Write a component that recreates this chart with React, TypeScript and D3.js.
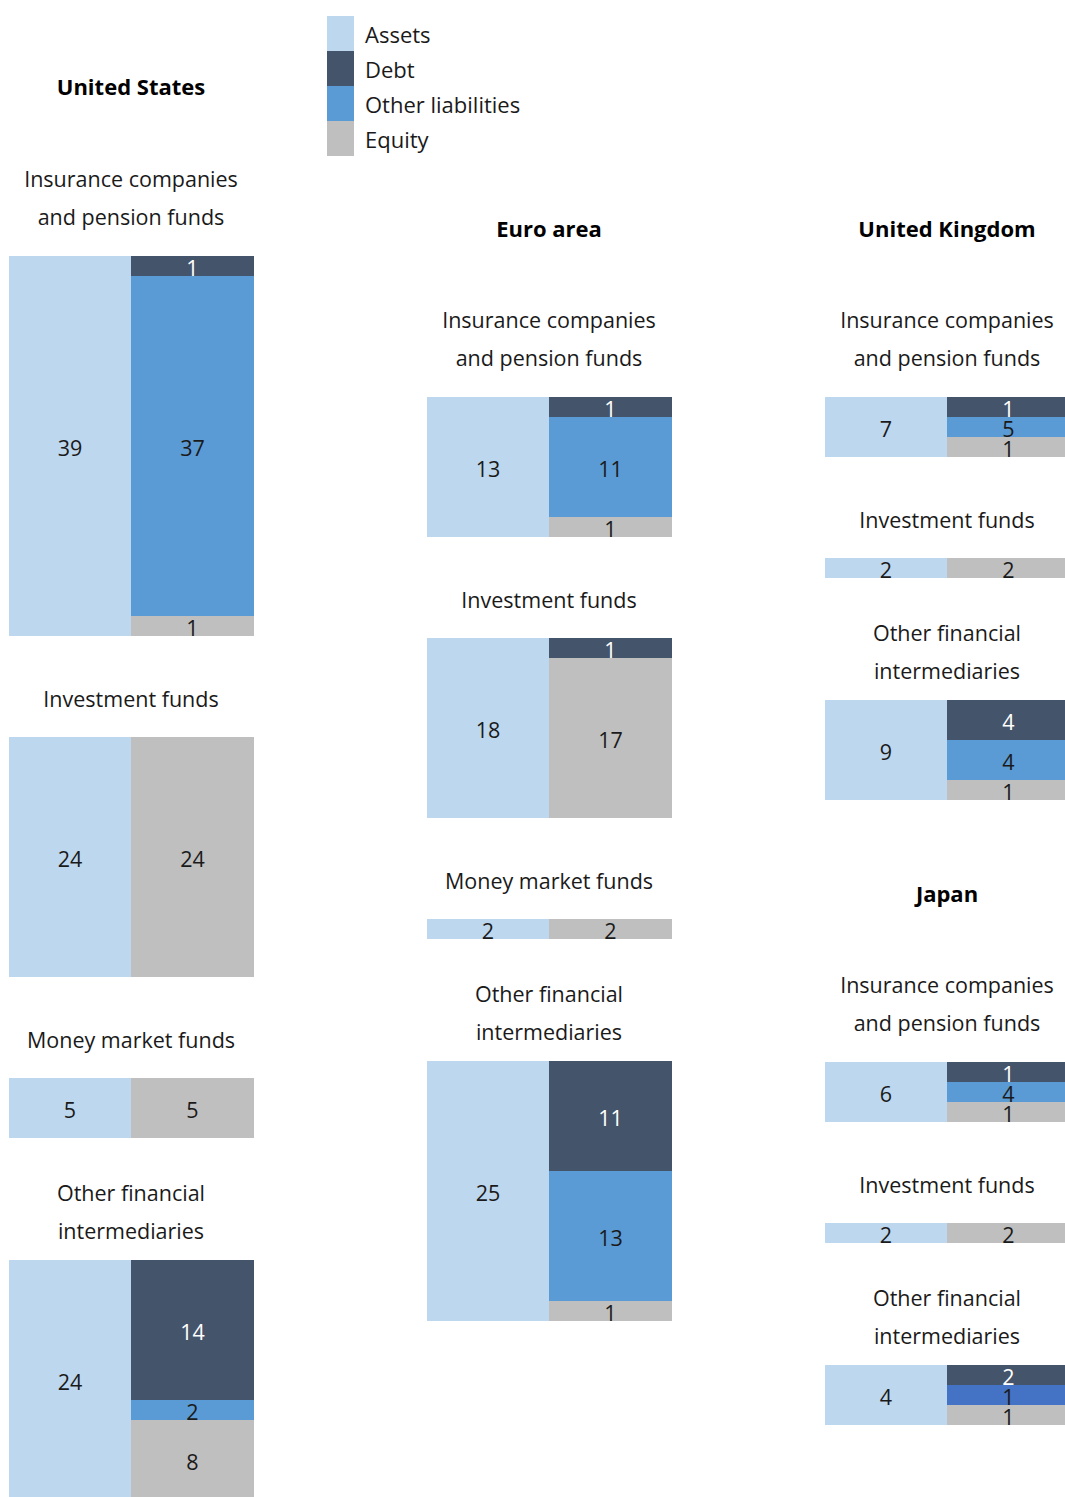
import React from "react";
import * as d3 from "d3";

// ---------- data ----------
const REGIONS = ["United States", "Euro area", "United Kingdom", "Japan"];

const US_SECTORS = ["Insurance companies|and pension funds", "Investment funds", "Money market funds", "Other financial|intermediaries"];
const US_ASSETS = [38.7, 24, 5, 24];
const US_DEBT = [1, null, null, 14];
const US_OTHER = [37, null, null, 2];
const US_EQUITY = [1, 24, 5, 8];

const EA_SECTORS = ["Insurance companies|and pension funds", "Investment funds", "Money market funds", "Other financial|intermediaries"];
const EA_ASSETS = [13, 18, 2, 25];
const EA_DEBT = [1, 1, null, 11];
const EA_OTHER = [11, null, null, 13];
const EA_EQUITY = [1, 17, 2, 1];

const UK_SECTORS = ["Insurance companies|and pension funds", "Investment funds", "Other financial|intermediaries"];
const UK_ASSETS = [6.8, 2, 9];
const UK_DEBT = [1, null, 4];
const UK_OTHER = [5, null, 4];
const UK_EQUITY = [1, 2, 1];

const JP_SECTORS = ["Insurance companies|and pension funds", "Investment funds", "Other financial|intermediaries"];
const JP_ASSETS = [6, 2, 4];
const JP_DEBT = [1, null, 2];
const JP_OTHER = [4, null, 1];
const JP_EQUITY = [1, 2, 1];

const LEGEND = ["Assets", "Debt", "Other liabilities", "Equity"];

// ---------- styles ----------
const COLORS: Record<string, string> = {
  Assets: "#BDD7EE",
  Debt: "#44546A",
  "Other liabilities": "#5B9BD5",
  Equity: "#BFBFBF",
};
const JP_OFI_OTHER_COLOR = "#4472C4";
const FONT = "'Open Sans', 'Noto Sans', sans-serif";
const W = 1065;
const H = 1497;
const ROW = 20;
const ASSET_W = 122;
const LIAB_W = 123;
const TXT = "#1a1a1a";
const fmt = d3.format(".0f");

const unit = d3.scaleLinear().domain([0, 1]).range([0, 10]);

type Seg = { key: string; value: number; y: number; h: number; color: string };
type Panel = { labelLines: { text: string; y: number }[]; top: number; total: number; assets: number; segs: Seg[] };

function buildRegion(sectors: string[], assets: number[], debt: (number | null)[], other: (number | null)[], equity: (number | null)[], startY: number, titleGap: number, overrideOther?: (i: number) => string | undefined) {
  const panels: Panel[] = [];
  let y = startY;
  sectors.forEach((s, i) => {
    const lines = s.split("|");
    const labelLines: { text: string; y: number }[] = [];
    let top: number;
    if (i === 0) {
      lines.forEach((t, k) => labelLines.push({ text: t, y: y + titleGap + k * 38 }));
      top = y + titleGap + (lines.length - 1) * 38 + 40;
    } else if (lines.length === 1) {
      labelLines.push({ text: lines[0], y: y + 62 });
      top = y + 101;
    } else {
      lines.forEach((t, k) => labelLines.push({ text: t, y: y + 54 + k * 38 }));
      top = y + 122;
    }
    const raw = [
      { key: "Debt", value: debt[i] },
      { key: "Other liabilities", value: other[i] },
      { key: "Equity", value: equity[i] },
    ].filter((d) => d.value != null) as { key: string; value: number }[];
    let total = Math.max(ROW, Math.round(unit(assets[i]) / ROW) * ROW);
    total = Math.max(total, raw.length * ROW);
    const fixed = new Set<number>();
    let changed = true;
    const heights: number[] = raw.map(() => 0);
    while (changed) {
      changed = false;
      const rem = total - fixed.size * ROW;
      const sum = d3.sum(raw.filter((_, k) => !fixed.has(k)), (d) => d.value);
      raw.forEach((d, k) => {
        if (fixed.has(k)) { heights[k] = ROW; return; }
        const h = (rem * d.value) / sum;
        if (h < ROW) { fixed.add(k); changed = true; }
        heights[k] = h;
      });
    }
    let cy = top;
    const segs: Seg[] = raw.map((d, k) => {
      const color = (d.key === "Other liabilities" && overrideOther && overrideOther(i)) || COLORS[d.key];
      const seg = { key: d.key, value: d.value, y: cy, h: heights[k], color };
      cy += heights[k];
      return seg;
    });
    panels.push({ labelLines, top, total, assets: assets[i], segs });
    y = top + total;
  });
  return { panels, end: y };
}

function Region({ title, titleY, x0, panels }: { title: string; titleY: number; x0: number; panels: Panel[] }) {
  const cx = x0 + ASSET_W;
  return (
    <g>
      <text x={cx} y={titleY} textAnchor="middle" dominantBaseline="central" fontWeight="bold" fontSize={22} fill="#000">
        {title}
      </text>
      {panels.map((p, i) => (
        <g key={i}>
          {p.labelLines.map((l, k) => (
            <text key={k} x={cx} y={l.y} textAnchor="middle" dominantBaseline="central" fontSize={21.5} fill={TXT}>
              {l.text}
            </text>
          ))}
          <rect x={x0} y={p.top} width={ASSET_W} height={p.total} fill={COLORS.Assets} />
          <text x={x0 + ASSET_W / 2} y={p.top + p.total / 2 + 1} textAnchor="middle" dominantBaseline="central" fontSize={21.5} fill={TXT}>
            {fmt(p.assets)}
          </text>
          {p.segs.map((s, k) => (
            <g key={k}>
              <rect x={x0 + ASSET_W} y={s.y} width={LIAB_W} height={s.h} fill={s.color} />
              <text x={x0 + ASSET_W + LIAB_W / 2} y={s.y + s.h / 2 + 1} textAnchor="middle" dominantBaseline="central" fontSize={21.5} fill={s.key === "Debt" ? "#fff" : TXT}>
                {fmt(s.value)}
              </text>
            </g>
          ))}
        </g>
      ))}
    </g>
  );
}

export default function App() {
  const us = buildRegion(US_SECTORS, US_ASSETS, US_DEBT, US_OTHER, US_EQUITY, 86, 92);
  const ea = buildRegion(EA_SECTORS, EA_ASSETS, EA_DEBT, EA_OTHER, EA_EQUITY, 228, 91);
  const uk = buildRegion(UK_SECTORS, UK_ASSETS, UK_DEBT, UK_OTHER, UK_EQUITY, 228, 91);
  const jpTitleY = uk.end + 93;
  const jp = buildRegion(JP_SECTORS, JP_ASSETS, JP_DEBT, JP_OTHER, JP_EQUITY, jpTitleY, 91, (i) => (i === 2 ? JP_OFI_OTHER_COLOR : undefined));

  const legendY = d3.scaleBand<string>().domain(LEGEND).range([16, 156]);

  return (
    <svg width={W} height={H} style={{ position: "absolute", left: 0, top: 0, background: "#fff" }} fontFamily={FONT}>
      <rect width={W} height={H} fill="#fff" />
      {LEGEND.map((k) => (
        <g key={k}>
          <rect x={327} y={legendY(k)} width={27} height={legendY.bandwidth()} fill={COLORS[k]} />
          <text x={365} y={(legendY(k) as number) + legendY.bandwidth() / 2} dominantBaseline="central" fontSize={22} fill={TXT}>
            {k}
          </text>
        </g>
      ))}
      <Region title={REGIONS[0]} titleY={86} x0={9} panels={us.panels} />
      <Region title={REGIONS[1]} titleY={228} x0={427} panels={ea.panels} />
      <Region title={REGIONS[2]} titleY={228} x0={825} panels={uk.panels} />
      <Region title={REGIONS[3]} titleY={jpTitleY} x0={825} panels={jp.panels} />
    </svg>
  );
}
